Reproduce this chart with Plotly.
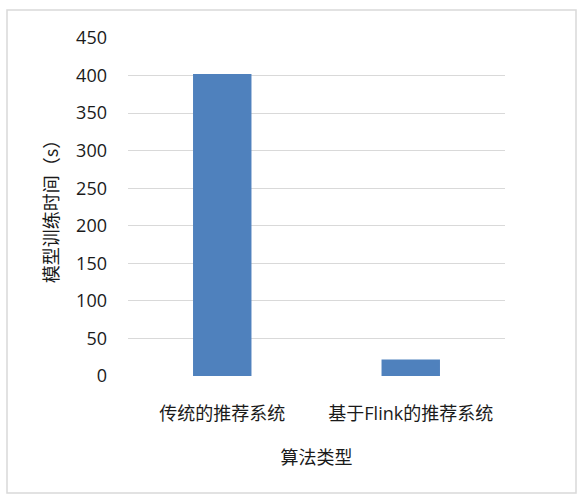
import plotly.graph_objects as go

categories = ["传统的推荐系统", "基于Flink的推荐系统"]
train_time = [402, 22]
y_ticks = [0, 50, 100, 150, 200, 250, 300, 350, 400, 450]

font_family = "Open Sans, Noto Sans CJK SC, sans-serif"
cjk_family = "Noto Sans CJK SC, sans-serif"
text_color = "#1a1a1a"

fig = go.Figure(
    go.Bar(
        x=categories,
        y=train_time,
        marker=dict(color="#4f81bd", line=dict(width=0)),
        width=0.31,
    )
)

fig.update_layout(
    width=578,
    height=495,
    margin=dict(l=128, r=73, t=38, b=119),
    paper_bgcolor="white",
    plot_bgcolor="white",
    showlegend=False,
    font=dict(family=font_family, size=18, color=text_color),
    xaxis=dict(
        title=dict(text="算法类型", standoff=27, font=dict(size=18)),
        tickfont=dict(size=18),
        showgrid=False,
        showline=False,
        ticks="",
        ticklabelstandoff=25,
    ),
    yaxis=dict(
        title=dict(text="模型训练时间（s）", standoff=12,
                   font=dict(size=18, family=cjk_family)),
        range=[0, 450],
        tickvals=y_ticks,
        tickfont=dict(size=18),
        showgrid=True,
        gridcolor="#d9d9d9",
        gridwidth=1,
        zeroline=False,
        showline=False,
        ticks="",
        ticklabelstandoff=20,
    ),
    shapes=[
        dict(
            type="rect",
            xref="paper",
            yref="paper",
            x0=(7 - 128) / 377,
            x1=(576 - 128) / 377,
            y0=(376 - 493) / 338,
            y1=(376 - 10) / 338,
            line=dict(color="#d9d9d9", width=1.5),
            fillcolor="rgba(0,0,0,0)",
            layer="below",
        )
    ],
)

fig.write_html("out.html")
